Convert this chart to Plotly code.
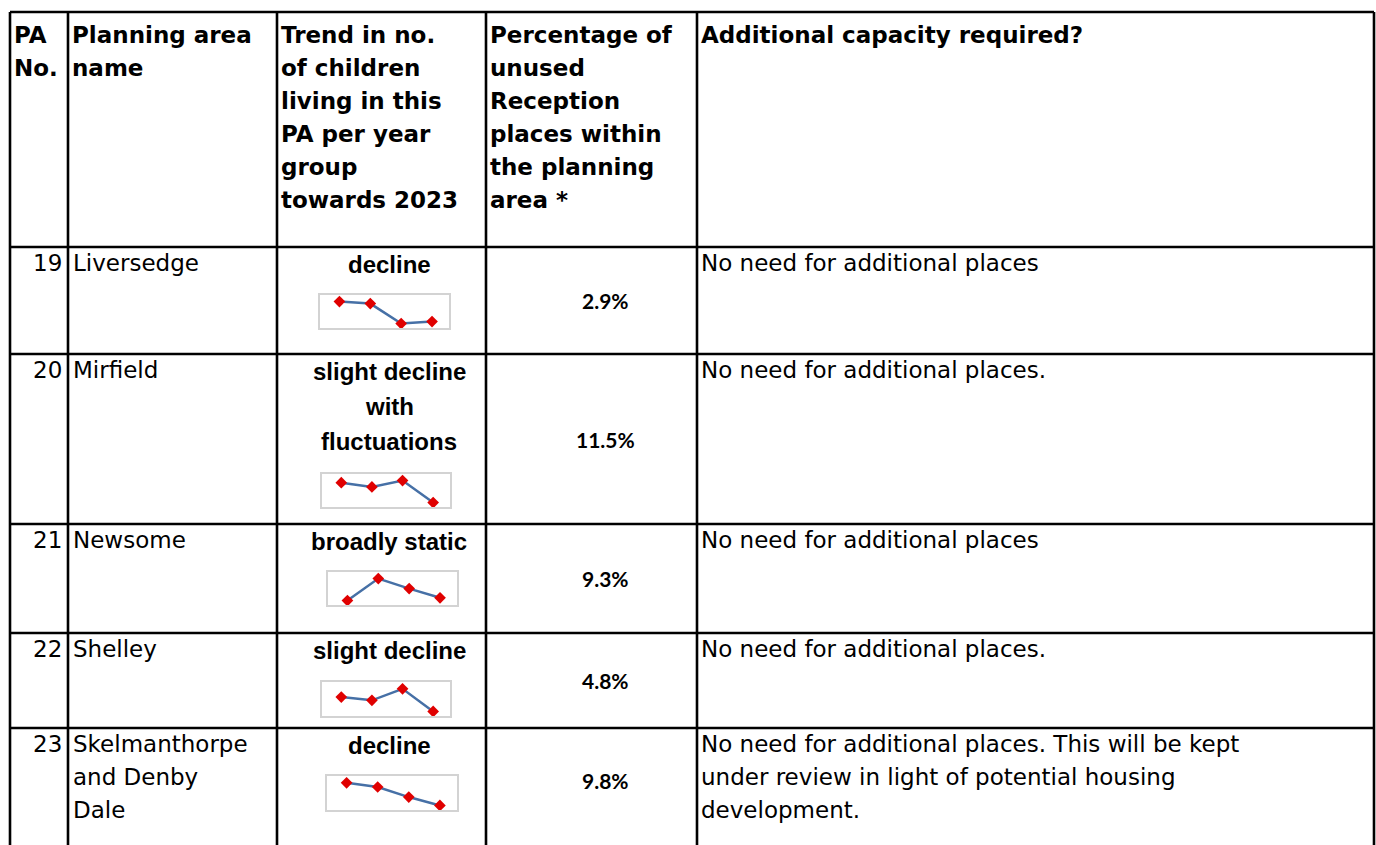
import plotly.graph_objects as go

# ---------------- data ----------------
header_cols = [
    ["PA", "No."],
    ["Planning area", "name"],
    ["Trend in no.", "of children", "living in this", "PA per year", "group", "towards 2023"],
    ["Percentage of", "unused", "Reception", "places within", "the planning", "area *"],
    ["Additional capacity required?"],
]
pa_numbers = ["19", "20", "21", "22", "23"]
area_names = [["Liversedge"], ["Mirfield"], ["Newsome"], ["Shelley"],
              ["Skelmanthorpe", "and Denby", "Dale"]]
trend_labels = [["decline"], ["slight decline", "with", "fluctuations"],
                ["broadly static"], ["slight decline"], ["decline"]]
unused_pct = [2.9, 11.5, 9.3, 4.8, 9.8]
capacity_text = [
    ["No need for additional places"],
    ["No need for additional places."],
    ["No need for additional places"],
    ["No need for additional places."],
    ["No need for additional places. This will be kept",
     "under review in light of potential housing",
     "development."],
]
years = [1, 2, 3, 4]
trend_values = [
    [520, 515, 465, 470],
    [515, 505, 520, 468],
    [465, 520, 495, 472],
    [500, 492, 520, 465],
    [520, 510, 486, 466],
]

# ---------------- layout constants ----------------
W, H = 1376, 845
col_x = [10, 68, 277, 486, 697, 1374]
row_y = [12, 247, 354, 524, 633, 728]
spark_boxes = [(320, 449, 295, 328), (322, 450, 474, 507), (328, 457, 572, 605),
               (322, 450, 682, 716), (327, 457, 776, 810)]
WORD_FONT = "DejaVu Sans, Verdana, sans-serif"
XL_FONT = "Liberation Sans, Arial, sans-serif"
PCT_FONT = "Lato, Calibri, sans-serif"
HEAD_FS = 23
BODY_FS = 23
NUM_FS = 23
TREND_FS = 24
LINE_H = 33
TREND_LINE_H = 35
HEAD_TOP = 35
HEAD_LINE_H = 33

fig = go.Figure()
annotations = []
shapes = []

def add_text(x, y, text, anchor="left", bold=False, size=BODY_FS, family=WORD_FONT):
    annotations.append(dict(
        x=x, y=y, xref="x", yref="y", text=text, showarrow=False,
        xanchor=anchor, yanchor="middle",
        font=dict(family=family, size=size, color="black",
                  weight="bold" if bold else "normal"),
    ))

# header
head_x = [12, 70, 279, 488, 699]
for ci, lines in enumerate(header_cols):
    for li, t in enumerate(lines):
        add_text(head_x[ci], HEAD_TOP + li * HEAD_LINE_H, t, bold=True, size=HEAD_FS)

# body rows
row_bottoms = row_y[2:] + [H]
for ri in range(5):
    top = row_y[ri + 1]
    first = top + 16
    add_text(64, first, pa_numbers[ri], anchor="right", size=NUM_FS)
    for li, t in enumerate(area_names[ri]):
        add_text(71, first + li * LINE_H, t)
    for li, t in enumerate(trend_labels[ri]):
        add_text(389, top + 17 + li * TREND_LINE_H, t, anchor="center", bold=True,
                 size=TREND_FS, family=XL_FONT)
    pct_y = (top + row_bottoms[ri]) / 2 if ri < 4 else 780
    add_text(605, pct_y, f"{unused_pct[ri]}%", anchor="center",
             bold=True, size=21, family=PCT_FONT)
    for li, t in enumerate(capacity_text[ri]):
        add_text(699, first + li * LINE_H, t)

# grid lines
for x in col_x:
    shapes.append(dict(type="line", xref="x", yref="y", x0=x, x1=x, y0=row_y[0], y1=H,
                       line=dict(color="black", width=2.6)))
for y in row_y:
    shapes.append(dict(type="line", xref="x", yref="y", x0=col_x[0], x1=col_x[-1], y0=y, y1=y,
                       line=dict(color="black", width=2.6)))

# sparklines
layout_axes = {}
for i, vals in enumerate(trend_values):
    n = i + 2
    x0, x1, y0, y1 = spark_boxes[i]
    fig.add_trace(go.Scatter(
        x=years, y=vals, mode="lines+markers", xaxis=f"x{n}", yaxis=f"y{n}",
        line=dict(color="#4670a6", width=2.5),
        marker=dict(symbol="diamond", size=9, color="#e00000"),
        showlegend=False, hoverinfo="skip",
    ))
    lo, hi = min(vals), max(vals)
    span = hi - lo
    ax = dict(showgrid=False, zeroline=False, showticklabels=False, ticks="",
              showline=True, mirror=True, linecolor="#d3d3d3", linewidth=2, fixedrange=True)
    layout_axes[f"xaxis{n}"] = dict(ax, domain=[x0 / W, x1 / W], range=[0.37, 4.55],
                                    anchor=f"y{n}")
    layout_axes[f"yaxis{n}"] = dict(ax, domain=[1 - y1 / H, 1 - y0 / H],
                                    range=[lo - 0.2 * span, hi + 0.3 * span], anchor=f"x{n}")

fig.update_layout(
    width=W, height=H, margin=dict(l=0, r=0, t=0, b=0),
    paper_bgcolor="white", plot_bgcolor="rgba(0,0,0,0)",
    xaxis=dict(range=[0, W], visible=False, domain=[0, 1], fixedrange=True),
    yaxis=dict(range=[H, 0], visible=False, domain=[0, 1], fixedrange=True),
    annotations=annotations, shapes=shapes, showlegend=False,
    **layout_axes,
)

fig.write_html("out.html", config={"displayModeBar": False},
               post_script="document.body.style.margin='0';document.body.style.overflow='hidden';")
